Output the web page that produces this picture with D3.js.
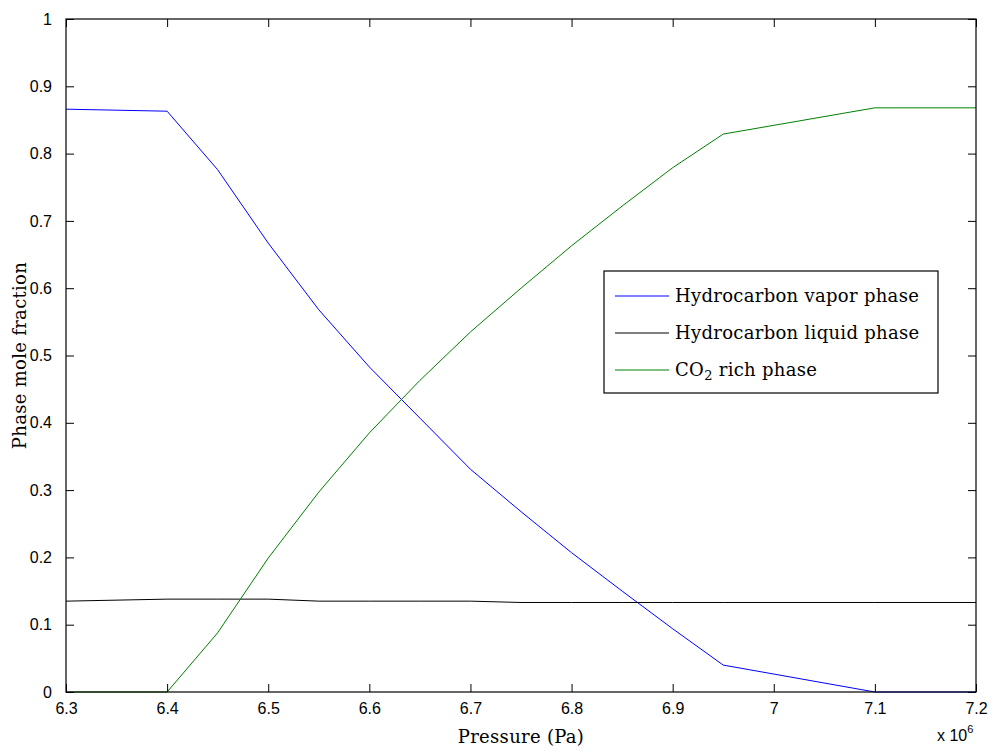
<!DOCTYPE html>
<html>
<head>
<meta charset="utf-8">
<script src="https://cdn.jsdelivr.net/npm/d3@7"></script>
<style>
	body { margin: 0; background: #fff; }
	.tick text { font-family: "Liberation Sans", Arial, sans-serif; font-size: 16px; fill: #000; }
	.serif { font-family: "DejaVu Serif", serif; letter-spacing: 0.3px; }
</style>
</head>
<body>
<script>
// pressure in units of 1e6 Pa
const pressure = [6.3, 6.4, 6.45, 6.5, 6.55, 6.6, 6.65, 6.7, 6.75, 6.8, 6.85, 6.9, 6.95, 7.1, 7.2];
const vaporPhase = [0.866, 0.863, 0.776, 0.667, 0.568, 0.483, 0.407, 0.331, 0.268, 0.207, 0.150, 0.094, 0.040, 0, 0];
const liquidPhase = [0.135, 0.138, 0.138, 0.138, 0.135, 0.135, 0.135, 0.135, 0.133, 0.133, 0.133, 0.133, 0.133, 0.133, 0.133];
const co2Phase = [0, 0, 0.088, 0.199, 0.297, 0.385, 0.463, 0.535, 0.600, 0.663, 0.722, 0.779, 0.829, 0.868, 0.868];
const xTicks = [6.3, 6.4, 6.5, 6.6, 6.7, 6.8, 6.9, 7, 7.1, 7.2];
const yTicks = [0, 0.1, 0.2, 0.3, 0.4, 0.5, 0.6, 0.7, 0.8, 0.9, 1];

const series = [
	{ name: "Hydrocarbon vapor phase", values: vaporPhase, color: "#0000ff" },
	{ name: "Hydrocarbon liquid phase", values: liquidPhase, color: "#000000" },
	{ name: "CO2 rich phase", values: co2Phase, color: "#008000" },
];

const width = 996, height = 754;
const margin = { left: 66, right: 20, top: 19, bottom: 62 };
const svg = d3.select("body").append("svg").attr("width", width).attr("height", height);

const x = d3.scaleLinear().domain([6.3, 7.2]).range([margin.left, width - margin.right]);
const y = d3.scaleLinear().domain([0, 1]).range([height - margin.bottom, margin.top]);

const fmt = (d) => d3.format("~g")(+d.toFixed(2));

// lines
const line = d3.line().x((d) => x(d[0])).y((d) => y(d[1]));
series.forEach((s) => {
	svg.append("path")
		.datum(pressure.map((p, i) => [p, s.values[i]]))
		.attr("d", line)
		.attr("fill", "none")
		.attr("stroke", s.color)
		.attr("stroke-width", 1);
});

// axes, ticks pointing inward
const tl = 8;
svg.append("g").attr("transform", `translate(0,${y(0)})`)
	.call(d3.axisBottom(x).tickValues(xTicks).tickFormat(fmt).tickSizeInner(-tl).tickSizeOuter(0).tickPadding(11))
	.call((g) => g.select(".domain").remove());
svg.append("g").attr("transform", `translate(0,${y(1)})`)
	.call(d3.axisTop(x).tickValues(xTicks).tickFormat("").tickSizeInner(-tl).tickSizeOuter(0))
	.call((g) => g.select(".domain").remove());
svg.append("g").attr("transform", `translate(${x(6.3)},0)`)
	.call(d3.axisLeft(y).tickValues(yTicks).tickFormat(fmt).tickSizeInner(-tl).tickSizeOuter(0).tickPadding(14))
	.call((g) => g.select(".domain").remove());
svg.append("g").attr("transform", `translate(${x(7.2)},0)`)
	.call(d3.axisRight(y).tickValues(yTicks).tickFormat("").tickSizeInner(-tl).tickSizeOuter(0))
	.call((g) => g.select(".domain").remove());
svg.selectAll(".tick line").attr("stroke", "#000");

svg.append("rect")
	.attr("x", x(6.3)).attr("y", y(1))
	.attr("width", x(7.2) - x(6.3)).attr("height", y(0) - y(1))
	.attr("fill", "none").attr("stroke", "#000").attr("stroke-width", 1.2);

// axis labels
svg.append("text").attr("class", "serif")
	.attr("x", (x(6.3) + x(7.2)) / 2).attr("y", 743)
	.attr("text-anchor", "middle").attr("font-size", 18)
	.text("Pressure (Pa)");
svg.append("text").attr("class", "serif")
	.attr("transform", `translate(26,${(y(0) + y(1)) / 2}) rotate(-90)`)
	.attr("text-anchor", "middle").attr("font-size", 18)
	.text("Phase mole fraction");

const expo = svg.append("text")
	.attr("x", 937).attr("y", 741)
	.attr("font-family", "Liberation Sans, Arial, sans-serif").attr("font-size", 16);
expo.append("tspan").text("x 10");
expo.append("tspan").attr("dy", -8).attr("font-size", 11).text("6");

// legend
const legend = svg.append("g").attr("transform", "translate(604,271)");
legend.append("rect").attr("width", 334).attr("height", 122)
	.attr("fill", "#fff").attr("stroke", "#000").attr("stroke-width", 1.2);
series.forEach((s, i) => {
	const ly = 25 + i * 37;
	legend.append("line").attr("x1", 11).attr("x2", 65).attr("y1", ly).attr("y2", ly)
		.attr("stroke", s.color);
	const t = legend.append("text").attr("class", "serif")
		.attr("x", 71).attr("y", ly + 6).attr("font-size", 18);
	if (s.name.startsWith("CO2")) {
		t.append("tspan").text("CO");
		t.append("tspan").attr("dy", 4).attr("font-size", 13).text("2");
		t.append("tspan").attr("dy", -4).text(" rich phase");
	} else {
		t.text(s.name);
	}
});
</script>
</body>
</html>
